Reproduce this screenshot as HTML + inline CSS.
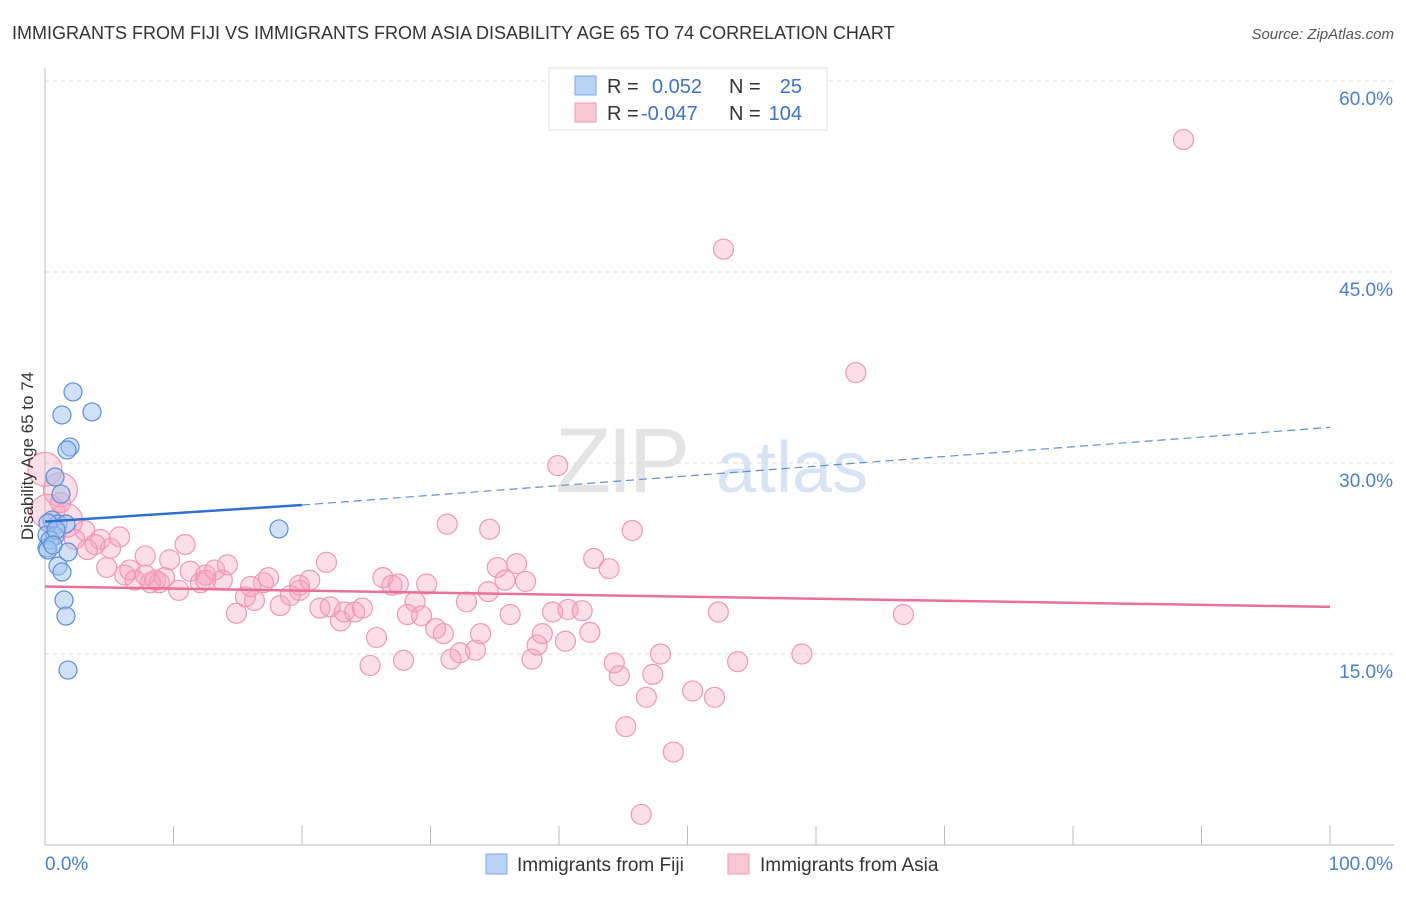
<!DOCTYPE html>
<html><head><meta charset="utf-8"><style>
body{margin:0;background:#fff;font-family:"Liberation Sans",sans-serif}
svg text{font-family:"Liberation Sans",sans-serif}
</style></head><body>
<svg id="chart" width="1406" height="892" viewBox="0 0 1406 892" xmlns="http://www.w3.org/2000/svg">
<text x="12" y="39" font-size="18" fill="#333">IMMIGRANTS FROM FIJI VS IMMIGRANTS FROM ASIA DISABILITY AGE 65 TO 74 CORRELATION CHART</text>
<text x="1394" y="39" font-size="15" fill="#555" text-anchor="end" font-style="italic">Source: ZipAtlas.com</text>
<g>
<text x="555" y="492" font-size="92" fill="#e4e4e4" font-family="Liberation Serif" letter-spacing="-4">ZIP</text>
<text x="716" y="492" font-size="72" fill="#d6e4f5">atlas</text>
</g>
<g id="grid"></g>
<g id="axes"></g>
<g id="marks"></g>
<g id="trends"></g>
<text transform="translate(33,456) rotate(-90)" font-size="17" fill="#333" text-anchor="middle">Disability Age 65 to 74</text>
<g>
<rect x="549" y="68" width="278" height="62" fill="#fff" stroke="#ddd"/>
<rect x="575" y="76" width="21" height="19" fill="#b8d3f4" stroke="#7aaae6"/>
<rect x="575" y="103" width="21" height="19" fill="#f9c6d5" stroke="#ee9ab4"/>
<text x="607" y="93" font-size="20" fill="#333">R =</text>
<text x="652" y="93" font-size="20" fill="#3d72c9">0.052</text>
<text x="729" y="93" font-size="20" fill="#333">N =</text>
<text x="802" y="93" font-size="20" fill="#3d72c9" text-anchor="end">25</text>
<text x="607" y="120" font-size="20" fill="#333">R =</text>
<text x="641" y="120" font-size="20" fill="#3d72c9">-0.047</text>
<text x="729" y="120" font-size="20" fill="#333">N =</text>
<text x="802" y="120" font-size="20" fill="#3d72c9" text-anchor="end">104</text>
</g>
<g>
<rect x="486" y="854" width="21" height="20" fill="#b8d3f4" stroke="#7aaae6"/>
<text x="517" y="871" font-size="19" fill="#333">Immigrants from Fiji</text>
<rect x="728" y="854" width="21" height="20" fill="#f9c6d5" stroke="#ee9ab4"/>
<text x="760" y="871" font-size="19" fill="#333">Immigrants from Asia</text>
</g>
</svg>
<script>
const yTicks=[15,30,45,60];
const yTickLabels=["15.0%","30.0%","45.0%","60.0%"];
const xTickLabels=["0.0%","100.0%"];
const fijiX=[2.18,1.32,3.66,1.95,1.71,0.78,1.25,0.54,1.01,0.23,1.63,0.16,0.78,0.16,1.01,1.79,1.32,1.48,1.63,0.39,1.79,18.21,0.23,0.86,0.62];
const fijiY=[35.58,33.77,34.01,31.26,31.02,28.9,27.56,25.52,25.21,25.29,25.21,24.35,24.27,23.33,21.91,23.01,21.44,19.24,17.98,23.95,13.74,24.82,23.17,24.74,23.56];
const asiaX=[88.6,52.8,63.1,39.9,0,1.2,31.3,34.6,45.7,0.2,1.6,3.1,4.3,5.8,5.1,10.9,7.8,9.7,4.8,6.2,7.0,8.6,8.9,9.3,11.3,10.4,12.1,12.5,13.2,13.8,14.2,14.9,15.6,16.3,17.0,17.4,18.3,19.1,19.8,20.6,21.4,21.9,22.2,23.0,23.3,24.1,24.7,25.3,25.8,26.3,27.0,27.5,27.9,28.2,28.8,29.3,29.7,30.4,31.0,31.6,32.3,32.8,33.5,33.9,34.5,35.2,35.8,36.2,36.7,37.4,37.9,38.3,38.7,39.5,40.5,40.7,41.8,42.4,42.7,43.9,44.3,44.7,45.2,46.4,46.8,47.3,47.9,48.9,50.4,52.1,52.4,53.9,58.9,66.8,1.2,2.3,3.9,6.6,7.8,3.3,16.0,19.8,12.5,8.2];
const asiaY=[55.4,46.8,37.1,29.8,29.5,27.9,25.2,24.8,24.7,26.2,25.5,24.7,24.0,24.2,23.3,23.6,22.7,22.4,21.8,21.2,20.8,20.8,20.6,21.0,21.5,20.0,20.6,21.2,21.6,20.8,22.0,18.2,19.5,19.2,20.6,21.0,18.8,19.6,20.4,20.8,18.6,22.2,18.7,17.6,18.3,18.3,18.6,14.1,16.3,21.0,20.4,20.5,14.5,18.1,19.1,18.0,20.5,17.0,16.6,14.6,15.1,19.1,15.3,16.6,19.9,21.8,20.8,18.1,22.1,20.7,14.6,15.7,16.6,18.3,16.0,18.5,18.4,16.7,22.5,21.7,14.3,13.3,9.3,2.4,11.6,13.4,15.0,7.3,12.1,11.6,18.3,14.4,15.0,18.1,26.9,24.0,23.6,21.6,21.2,23.2,20.3,20.0,20.8,20.6];
const asiaBig=[4,5,9,10];
const fijiTrend=[25.4,26.7,32.8]; // at x=0, 20 (solid end), 100
const fijiTrendX=[0,20,100];
const asiaTrend=[20.3,18.7];
const asiaTrendX=[0,100];

const NS="http://www.w3.org/2000/svg";
const X0=45,X1=1330,Y0=845,PX15=191;
const sx=v=>X0+(X1-X0)*v/100;
const sy=v=>Y0-PX15*v/15;
function mk(tag,attrs,parent){const e=document.createElementNS(NS,tag);for(const k in attrs)e.setAttribute(k,attrs[k]);parent.appendChild(e);return e;}
const grid=document.getElementById('grid'),axes=document.getElementById('axes'),marks=document.getElementById('marks'),trends=document.getElementById('trends');
yTicks.forEach((t,i)=>{
  const l=mk('line',{x1:X0,x2:1394,y1:sy(t),y2:sy(t),stroke:'#ddd','stroke-dasharray':'4,4'},grid);
  
  
  const tx=mk('text',{x:1393,y:sy(t)+24,'font-size':19,fill:'#4a7fd0','text-anchor':'end'},axes);
  tx.textContent=yTickLabels[i];
  
  
});
mk('line',{x1:X0,x2:X0,y1:68,y2:Y0,stroke:'#bbb'},axes);
mk('line',{x1:X0,x2:1394,y1:Y0,y2:Y0,stroke:'#bbb'},axes);
for(let i=0;i<=10;i++){mk('line',{x1:sx(i*10),x2:sx(i*10),y1:826,y2:Y0,stroke:'#bbb'},axes);}
[[0,'start',45],[100,'end',1393]].forEach((d,i)=>{
  const t=mk('text',{x:d[2],y:870,'font-size':19,fill:'#4a7fd0','text-anchor':d[1]},axes);
  t.textContent=xTickLabels[i];
  
  
});
asiaX.forEach((v,i)=>{
  const c=mk('circle',{cx:sx(v),cy:sy(asiaY[i]),r:asiaBig.includes(i)?17:10,fill:'rgba(246,160,188,0.35)',stroke:'#ef98b3','stroke-width':1.2},marks);
  
  
});
fijiX.forEach((v,i)=>{
  const c=mk('circle',{cx:sx(v),cy:sy(fijiY[i]),r:9,fill:'rgba(160,196,240,0.5)',stroke:'#5b8fd6','stroke-width':1.2},marks);
  
  
});
const fs=mk('line',{x1:sx(fijiTrendX[0]),y1:sy(fijiTrend[0]),x2:sx(fijiTrendX[1]),y2:sy(fijiTrend[1]),stroke:'#2f6fd0','stroke-width':2.5},trends);


const fd=mk('line',{x1:sx(fijiTrendX[1]),y1:sy(fijiTrend[1]),x2:sx(fijiTrendX[2]),y2:sy(fijiTrend[2]),stroke:'#5b8fd6','stroke-width':1.2,'stroke-dasharray':'8,5'},trends);


const at=mk('line',{x1:sx(asiaTrendX[0]),y1:sy(asiaTrend[0]),x2:sx(asiaTrendX[1]),y2:sy(asiaTrend[1]),stroke:'#e8709a','stroke-width':2.5},trends);


</script>
</body></html>
